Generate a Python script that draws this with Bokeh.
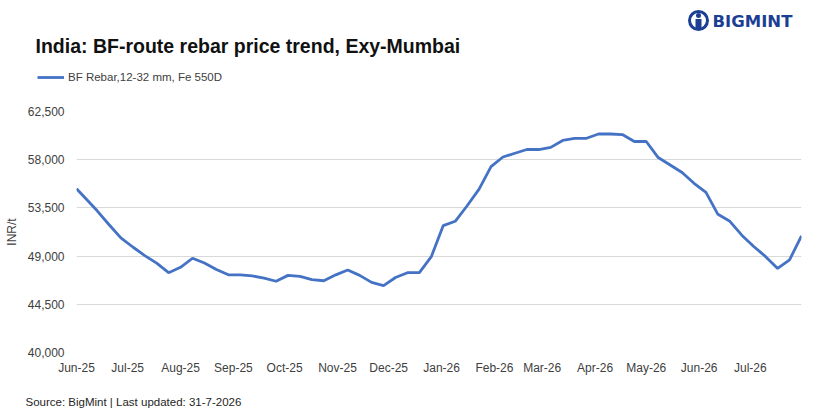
import pandas as pd
from bokeh.plotting import figure
from bokeh.layouts import column
from bokeh.models import (ColumnDataSource, Legend, LegendItem, FixedTicker,
                          NumeralTickFormatter, DatetimeTickFormatter, Range1d)
from bokeh.core.properties import value
from bokeh.embed import file_html
from bokeh.resources import INLINE

# ---------------- data ----------------
dates = [
    "2025-06-01", "2025-06-06", "2025-06-13", "2025-06-20", "2025-06-27",
    "2025-07-04", "2025-07-11", "2025-07-18", "2025-07-25",
    "2025-08-01", "2025-08-08", "2025-08-15", "2025-08-22", "2025-08-29",
    "2025-09-05", "2025-09-12", "2025-09-19", "2025-09-26",
    "2025-10-03", "2025-10-10", "2025-10-17", "2025-10-24", "2025-10-31",
    "2025-11-07", "2025-11-14", "2025-11-21", "2025-11-28",
    "2025-12-05", "2025-12-12", "2025-12-19", "2025-12-26",
    "2026-01-02", "2026-01-09", "2026-01-16", "2026-01-23", "2026-01-30",
    "2026-02-06", "2026-02-13", "2026-02-20", "2026-02-27",
    "2026-03-06", "2026-03-13", "2026-03-20", "2026-03-27",
    "2026-04-03", "2026-04-10", "2026-04-17", "2026-04-24",
    "2026-05-01", "2026-05-08", "2026-05-15", "2026-05-22", "2026-05-29",
    "2026-06-05", "2026-06-12", "2026-06-19", "2026-06-26",
    "2026-07-03", "2026-07-10", "2026-07-17", "2026-07-24", "2026-07-31",
]
rebar = [
    55300, 54450, 53250, 51950, 50700,
    49850, 49050, 48350, 47450,
    47950, 48800, 48350, 47750, 47250,
    47250, 47150, 46950, 46650,
    47200, 47100, 46800, 46700, 47250,
    47700, 47200, 46550, 46250,
    47000, 47450, 47450, 48950,
    51850, 52250, 53700, 55250, 57350,
    58250, 58600, 58950, 58950,
    59150, 59800, 60000, 60000,
    60400, 60400, 60350, 59700,
    59700, 58200, 57500, 56800, 55800,
    54950, 52900, 52250, 50950,
    49900, 48950, 47850, 48650, 50900,
]
month_ticks = ["2025-06-01", "2025-07-01", "2025-08-01", "2025-09-01", "2025-10-01",
               "2025-11-01", "2025-12-01", "2026-01-01", "2026-02-01", "2026-03-01",
               "2026-04-01", "2026-05-01", "2026-06-01", "2026-07-01"]
y_ticks = [40000, 44500, 49000, 53500, 58000, 62500]
series_name = "BF Rebar,12-32 mm, Fe 550D"
title_text = "India: BF-route rebar price trend, Exy-Mumbai"
source_text = "Source: BigMint | Last updated: 31-7-2026"
brand_text = "BIGMINT"

FONT = "Liberation Sans"
LINE_COLOR = "#4472C4"
NAVY = "#1c3f94"
W = 826


def blank_fig(height):
    f = figure(width=W, height=height, output_backend="svg", toolbar_location=None,
               x_range=Range1d(0, W), y_range=Range1d(height, 0),
               x_axis_location=None, y_axis_location=None,
               min_border=0, min_border_left=0, min_border_right=0,
               min_border_top=0, min_border_bottom=0, frame_align=False)
    f.outline_line_color = None
    f.xgrid.visible = False
    f.ygrid.visible = False
    return f


# ---------------- header (title, legend, logo) ----------------
HH = 100
h = blank_fig(HH)
h.text(x=[35], y=[45], text=[title_text], text_font=value(FONT),
       text_font_size=value("19.5px"), text_font_style="bold",
       text_color="#111111", text_align="left", text_baseline="middle")
h.text(x=[712], y=[21], text=[brand_text], text_font=value("DejaVu Sans"),
       text_font_size=value("16.5px"), text_font_style="bold",
       text_color=NAVY, text_align="left", text_baseline="middle")
h.scatter(x=[698], y=[20], size=21, marker="circle", fill_color=NAVY, line_color=None)
h.scatter(x=[698], y=[20], size=15, marker="circle", fill_color="white", line_color=None)
h.scatter(x=[698], y=[15], size=5, marker="circle", fill_color=NAVY, line_color=None)
h.rect(x=[698], y=[24], width=6, height=11, fill_color=NAVY, line_color=None)

swatch = h.line(x=[float("nan")], y=[float("nan")], line_color=LINE_COLOR, line_width=2.8)
legend = Legend(items=[LegendItem(label=series_name, renderers=[swatch])],
                location=(37, HH - 84), glyph_width=27, glyph_height=14, label_height=14,
                padding=0, margin=0, spacing=0, border_line_color=None,
                background_fill_alpha=0, label_standoff=4,
                label_text_font=FONT, label_text_font_size="11.5px",
                label_text_color="#404040")
h.add_layout(legend)

# ---------------- main chart ----------------
dt = pd.to_datetime(dates)
src = ColumnDataSource(dict(x=dt, y=rebar))

p = figure(width=W, height=278, x_axis_type="datetime", output_backend="svg",
           toolbar_location=None, frame_align=False,
           x_range=Range1d(pd.Timestamp("2025-06-01"), pd.Timestamp("2026-07-31")),
           y_range=Range1d(40000, 62500),
           min_border_left=76, min_border_right=25, min_border_top=11, min_border_bottom=26)
p.outline_line_color = None

p.line("x", "y", source=src, line_color=LINE_COLOR, line_width=2.8)

tick_ms = [pd.Timestamp(t).value / 1e6 for t in month_ticks]
p.xaxis.ticker = FixedTicker(ticks=tick_ms)
p.xaxis.formatter = DatetimeTickFormatter(days="%b-%y", months="%b-%y", years="%b-%y")
p.yaxis.ticker = FixedTicker(ticks=y_ticks)
p.yaxis.formatter = NumeralTickFormatter(format="0,0")
for ax in (p.xaxis, p.yaxis):
    ax.axis_line_color = None
    ax.major_tick_line_color = None
    ax.minor_tick_line_color = None
    ax.major_tick_out = 0
    ax.major_tick_in = 0
    ax.major_label_text_font = FONT
    ax.major_label_text_font_size = "12px"
    ax.major_label_text_color = "#404040"
p.xaxis.major_label_standoff = 8
p.yaxis.major_label_standoff = 12
p.yaxis.axis_label = "INR/t"
p.yaxis.axis_label_text_font = FONT
p.yaxis.axis_label_text_font_style = "normal"
p.yaxis.axis_label_text_font_size = "12px"
p.yaxis.axis_label_text_color = "#404040"
p.yaxis.axis_label_standoff = 6

p.xgrid.grid_line_color = None
p.ygrid.grid_line_color = "#d9d9d9"
p.ygrid.grid_line_width = 1

# ---------------- footer ----------------
FH = 35
ft = blank_fig(FH)
ft.text(x=[25], y=[23], text=[source_text], text_font=value(FONT),
        text_font_size=value("11.5px"), text_color="#262626",
        text_align="left", text_baseline="middle")

layout = column(h, p, ft, spacing=0)
open("out.html", "w").write(file_html(layout, INLINE))
